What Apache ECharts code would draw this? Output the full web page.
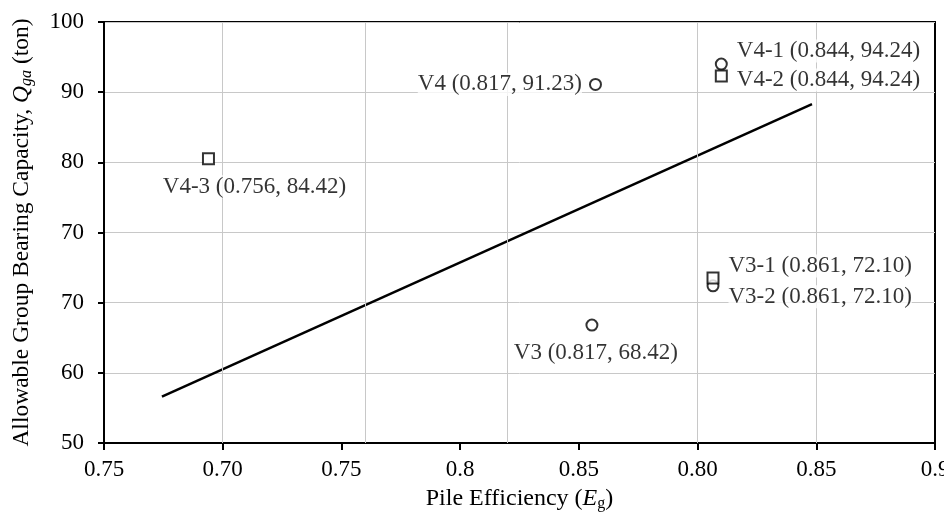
<!DOCTYPE html>
<html>
<head>
<meta charset="utf-8">
<script src="https://cdn.jsdelivr.net/npm/echarts@6/dist/echarts.min.js"></script>
<style>
  html, body { margin: 0; padding: 0; background: #fff; }
  #chart { width: 944px; height: 513px; }
</style>
</head>
<body>
<div id="chart"></div>
<script>
// tick labels as printed on the figure
var xTickLabels = ['0.75', '0.70', '0.75', '0.8', '0.85', '0.80', '0.85', '0.9']
var yTickLabels = ['50', '60', '70', '70', '80', '90', '100']

// points
var pointNames = ['V4-3 (0.756, 84.42)', 'V4 (0.817, 91.23)', 'V4-1 (0.844, 94.24)', 'V4-2 (0.844, 94.24)',
  'V3-1 (0.861, 72.10)', 'V3-2 (0.861, 72.10)', 'V3 (0.817, 68.42)']
var pointX = [0.594, 0.757, 0.810, 0.810, 0.8065, 0.8065, 0.7555]
var pointY = [80.5, 91.1, 94.0, 92.3, 63.5, 62.4, 56.8]
var pointShape = ['square', 'circle', 'circle', 'square', 'square', 'circle', 'circle']

// regression line end points
var trendX = [0.5744, 0.8482]
var trendY = [46.6, 88.3]

// vertical grid lines as drawn
var xGridLines = [0.601, 0.661, 0.722, 0.796, 0.849]

var font = "'Liberation Serif', 'Times New Roman', serif"
var fs = 23
var labelPlace = [
  { position: 'bottom', offset: [46, 5] },
  { position: 'left', distance: 7, offset: [0, 0] },
  { position: 'right', distance: 9, offset: [0, -13] },
  { position: 'right', distance: 9, offset: [0, 4] },
  { position: 'right', distance: 9, offset: [0, -12] },
  { position: 'right', distance: 9, offset: [0, 11] },
  { position: 'bottom', offset: [4, 5] }
]

function buildPoints(shape) {
  var out = []
  for (var i = 0; i < pointNames.length; i++) {
    if (pointShape[i] !== shape) continue
    out.push({
      name: pointNames[i],
      value: [pointX[i], pointY[i]],
      label: labelPlace[i]
    })
  }
  return out
}

var chart = echarts.init(document.getElementById('chart'))
chart.setOption({
  backgroundColor: '#fff',
  animation: false,
  grid: {
    left: 104,
    right: 9,
    top: 22,
    bottom: 70,
    outerBoundsMode: 'none',
    containLabel: false,
    show: true,
    borderColor: '#000',
    borderWidth: 2
  },
  xAxis: {
    type: 'value',
    min: 0.55,
    max: 0.9,
    interval: 0.05,
    name: '{n|Pile Efficiency (}{i|E}{sub|g}{n|)}',
    nameLocation: 'middle',
    nameGap: 42,
    nameTextStyle: {
      fontFamily: font,
      color: '#000',
      rich: {
        n: { fontFamily: font, fontSize: 24, color: '#000' },
        i: { fontFamily: font, fontSize: 24, fontStyle: 'italic', color: '#000' },
        sub: { fontFamily: font, fontSize: 16, color: '#000', verticalAlign: 'bottom', padding: [11, 0, 0, 0] }
      }
    },
    axisLine: { lineStyle: { color: '#000', width: 2 } },
    axisTick: { show: true, length: 7, lineStyle: { color: '#000', width: 2 } },
    axisLabel: {
      margin: 15,
      fontFamily: font,
      fontSize: fs,
      color: '#000',
      formatter: function (v) {
        return xTickLabels[Math.round((v - 0.55) / 0.05)]
      }
    },
    splitLine: { show: false }
  },
  yAxis: {
    type: 'value',
    min: 40,
    max: 100,
    interval: 10,
    name: '{n|Allowable Group Bearing Capacity, }{i|Q}{sub|ga}{n| (ton)}',
    nameLocation: 'middle',
    nameRotate: 90,
    nameGap: 69,
    nameTextStyle: {
      fontFamily: font,
      color: '#000',
      rich: {
        n: { fontFamily: font, fontSize: 23.5, color: '#000' },
        i: { fontFamily: font, fontSize: 23.5, fontStyle: 'italic', color: '#000' },
        sub: { fontFamily: font, fontSize: 16, fontStyle: 'italic', color: '#000', verticalAlign: 'bottom', padding: [11, 0, 0, 0] }
      }
    },
    axisLine: { lineStyle: { color: '#000', width: 2 } },
    axisTick: { show: true, length: 6, lineStyle: { color: '#000', width: 2 } },
    axisLabel: {
      margin: 20,
      fontFamily: font,
      fontSize: fs,
      color: '#000',
      formatter: function (v) {
        return yTickLabels[Math.round((v - 40) / 10)]
      }
    },
    splitLine: { show: true, lineStyle: { color: '#c8c8c8', width: 1 } }
  },
  series: [
    {
      type: 'line',
      data: [],
      z: 1,
      markLine: {
        silent: true,
        symbol: 'none',
        label: { show: false },
        lineStyle: { color: '#c8c8c8', width: 1, type: 'solid' },
        data: xGridLines.map(function (v) { return { xAxis: v } })
      }
    },
    {
      type: 'line',
      z: 3,
      symbol: 'none',
      lineStyle: { color: '#000', width: 2.5 },
      data: [[trendX[0], trendY[0]], [trendX[1], trendY[1]]]
    },
    {
      type: 'scatter',
      z: 5,
      symbol: 'circle',
      symbolSize: 11,
      itemStyle: { color: '#fff', borderColor: '#000', borderWidth: 2 },
      label: {
        show: true,
        formatter: '{b}',
        fontFamily: font,
        fontSize: fs,
        color: '#000',
        backgroundColor: '#fff'
      },
      data: buildPoints('circle')
    },
    {
      type: 'scatter',
      z: 5,
      symbol: 'rect',
      symbolSize: 11,
      itemStyle: { color: '#fff', borderColor: '#000', borderWidth: 2 },
      label: {
        show: true,
        formatter: '{b}',
        fontFamily: font,
        fontSize: fs,
        color: '#000',
        backgroundColor: '#fff'
      },
      data: buildPoints('square')
    }
  ]
})
</script>
</body>
</html>
